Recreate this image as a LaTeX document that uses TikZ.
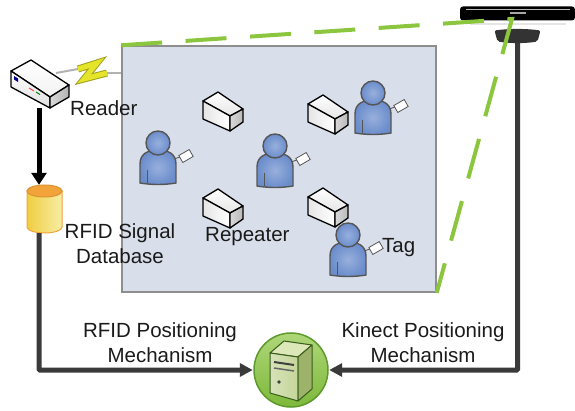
\documentclass[tikz,border=0pt]{standalone}
\usepackage{fontspec}
\setmainfont{Liberation Sans}
\usetikzlibrary{arrows.meta}
\definecolor{roomfill}{HTML}{D9DFEA}
\definecolor{roomline}{HTML}{8E8E8E}
\definecolor{viewgreen}{HTML}{8CC63F}
\definecolor{personblue}{HTML}{6B8DCC}
\definecolor{outlinegray}{HTML}{555555}
\definecolor{linkgray}{HTML}{3A3A3A}
\definecolor{dbyellow}{HTML}{EEDB4C}
\definecolor{dborange}{HTML}{F2A33A}
\definecolor{boltyellow}{HTML}{E4E42A}
\definecolor{srvgreen}{HTML}{7DB83A}
\definecolor{srvrim}{HTML}{5E9A2C}
\definecolor{towerfront}{HTML}{C5D69A}
\definecolor{towerside}{HTML}{9DB36A}
\definecolor{towertop}{HTML}{DDE8B8}
\definecolor{txt}{HTML}{1A1A1A}
\tikzset{
  slot/.style={inner sep=0pt,minimum width=#1,minimum height=#1},
  room/.style={draw=roomline,fill=roomfill,line width=1.5pt,inner sep=0pt,minimum width=314,minimum height=246},
  lbl/.style={font=\fontsize{20.5}{25}\selectfont,text=txt,inner sep=0pt,align=center},
  edge3d/.style={line width=1.3pt,line join=round,draw=black},
  dataarrow/.style={-{Triangle[length=12pt,width=15pt]},line width=5pt,draw=black},
  linkarrow/.style={-{Triangle[length=13pt,width=13pt]},line width=5pt,draw=linkgray,rounded corners=1pt},
  viewline/.style={draw=viewgreen,line width=4pt,dash pattern=on 41pt off 23.5pt},
  signal/.style={draw=gray!60,line width=2pt},
  % small white repeater box
  repeater/.pic={
    \draw[edge3d,top color=white,bottom color=gray!20] (-5,-19) -- (-20,-10) -- (7,5) -- (20,-2) -- cycle;
    \draw[edge3d,left color=gray!20,right color=white] (-20,-10) -- (-20,8) -- (7,20) -- (7,5) -- cycle;
    \draw[edge3d,left color=gray!30,right color=gray!55] (7,5) -- (7,20) -- (20,11) -- (20,-2) -- cycle;
  },
  % tagged person
  person/.pic={
    \draw[outlinegray,line width=0.8pt] (16,1) -- (22,-1);
    \draw[outlinegray,fill=white,line width=0.8pt,rotate around={30:(28,-2)}] (22,-6) rectangle (34,2);
    \draw[outlinegray,line width=1.4pt,inner color=personblue!70!white,outer color=personblue]
      (-18,25) -- (-18,6) .. controls (-18,-5) and (-9,-8) .. (0,-8)
      .. controls (9,-8) and (18,-5) .. (18,6) -- (18,25)
      .. controls (6,27) and (-6,27) .. (-18,25) -- cycle;
    \draw[outlinegray,line width=0.8pt] (-11,12) -- (-11,25);
    \draw[outlinegray,line width=1.4pt,inner color=personblue!70!white,outer color=personblue] (0,-15) circle (12);
  },
  reader/.pic={
    \draw[edge3d,top color=white,bottom color=gray!10] (-8,-24) -- (-28,-13) -- (11,13) -- (30,1) -- cycle;
    \draw[edge3d,top color=white,bottom color=gray!25] (-28,-13) -- (-28,3) -- (11,24) -- (11,13) -- cycle;
    \draw[edge3d,left color=gray!30,right color=gray!60] (11,13) -- (11,24) -- (30,13) -- (30,1) -- cycle;
    \fill[blue!55!black] (-25,-8) -- (-21,-5.5) -- (-21,-2) -- (-25,-4.5) -- cycle;
    \draw[red!70,line width=1pt] (-10,4) -- (-5,7);
    \draw[green!50!black,line width=1pt] (-3,8) -- (1,10.5);
  },
  database/.pic={
    \draw[dborange,line width=1pt,left color=dbyellow!85!orange,right color=dbyellow!50!white]
      (-17.5,-18) -- (-17.5,18) arc[start angle=180,end angle=0,x radius=17.5,y radius=6] -- (17.5,-18) -- cycle;
    \draw[dborange!90!black,line width=1pt,fill=dborange] (0,-18) ellipse [x radius=17.5,y radius=6];
  },
  server/.pic={
    \draw[srvrim,line width=1.5pt,top color=viewgreen!70!white,bottom color=srvgreen] (0,0) circle (37);
    \draw[srvrim!60!black,line width=1pt,line join=round,fill=towertop] (-21,-17) -- (-7,-29) -- (21,-25) -- (7,-13) -- cycle;
    \draw[srvrim!60!black,line width=1pt,line join=round,left color=towerfront!70!white,right color=towerfront] (-21,-17) -- (7,-13) -- (7,31) -- (-21,23) -- cycle;
    \draw[srvrim!60!black,line width=1pt,line join=round,fill=towerside] (7,-13) -- (21,-25) -- (21,19) -- (7,31) -- cycle;
    \draw[black!75,line width=2pt] (-17,-8) -- (3,-5);
    \draw[black!60,line width=1.5pt] (-17,-2) -- (3,1);
    \fill[black!75] (-12,12) circle (1.8);
  },
  kinect/.pic={
    \fill[black,rounded corners=3pt] (-57.5,-19) -- (57.5,-19) -- (57.5,-5) -- (-57.5,-5) -- cycle;
    \fill[gray!55] (-52,-16.5) rectangle (52,-15.5);
    \fill[gray!70] (-8,-13) rectangle (8,-11);
    \fill[gray!20] (-48,-2) rectangle (48,0);
    \fill[black!80,rounded corners=2pt] (-23,5) .. controls (-8,3) and (8,3) .. (23,5) -- (20,16) .. controls (8,18) and (-8,18) .. (-20,16) -- cycle;
  }
}
\begin{document}
\begin{tikzpicture}[x=1pt,y=-1pt]
  \useasboundingbox (0,0) rectangle (575,411);

  % covered area
  \node[room] (room) at (279,169) {};

  % devices
  \node[slot=48] (reader) at (39,84) {};
  \node[slot=48] (db) at (44.5,209) {};
  \node[circle,slot=76] (server) at (291,370) {};
  \node[inner sep=0pt,minimum width=115,minimum height=35] (kinect) at (517.5,25.5) {};
  \coordinate (lens) at (512,19);
  \coordinate (boltin) at (78,69);
  \coordinate (boltout) at (107,73);

  \pic at (reader) {reader};
  \pic at (db) {database};
  \pic at (server) {server};
  \pic at (kinect) {kinect};

  % wireless link reader -> room
  \draw[signal] (reader.center) ++(17,-11) -- (boltin);
  \draw[signal] (boltout) -- (room.west |- boltout);
  \draw[line width=7pt,draw=boltyellow!70!black,line join=miter] (boltin) -- (97,63) -- (84,79) -- (boltout);
  \draw[line width=5pt,draw=boltyellow,line join=miter] (boltin) -- (97,63) -- (84,79) -- (boltout);

  % repeaters and tagged people
  \node[slot=40] (rep1) at (223,111) {};
  \node[slot=40] (rep2) at (328,114) {};
  \node[slot=40] (rep3) at (223,208) {};
  \node[slot=40] (rep4) at (328,207) {};
  \foreach \r in {rep1,rep2,rep3,rep4}
    \pic at (\r) {repeater};
  \node[slot=40] (pers1) at (158,158) {};
  \node[slot=40] (pers2) at (275,161) {};
  \node[slot=40] (pers3) at (373,108) {};
  \node[slot=40] (pers4) at (348,250) {};
  \foreach \p in {pers1,pers2,pers3,pers4}
    \pic at (\p) {person};

  % connectors
  \draw[dataarrow] (reader.south) -- (reader.south |- db.north);
  \draw[linkarrow] (reader.south |- db.south) |- (server.west);
  \draw[linkarrow] (kinect.south) |- (server.east);

  % kinect field of view
  \draw[viewline] (room.north west) -- (lens) -- (room.south east);

  % labels
  \node[lbl,anchor=base west] (readerlbl) at (70,116) {Reader};
  \node[lbl] (dblbl) at (120,244) {RFID Signal\\Database};
  \node[lbl,anchor=base west] (replbl) at (205,242) {Repeater};
  \node[lbl,anchor=base west] (taglbl) at (382,253) {Tag};
  \node[lbl] (rfidlbl) at (160,342.5) {RFID Positioning\\Mechanism};
  \node[lbl] (kinlbl) at (423,342.5) {Kinect Positioning\\Mechanism};
\end{tikzpicture}
\end{document}
